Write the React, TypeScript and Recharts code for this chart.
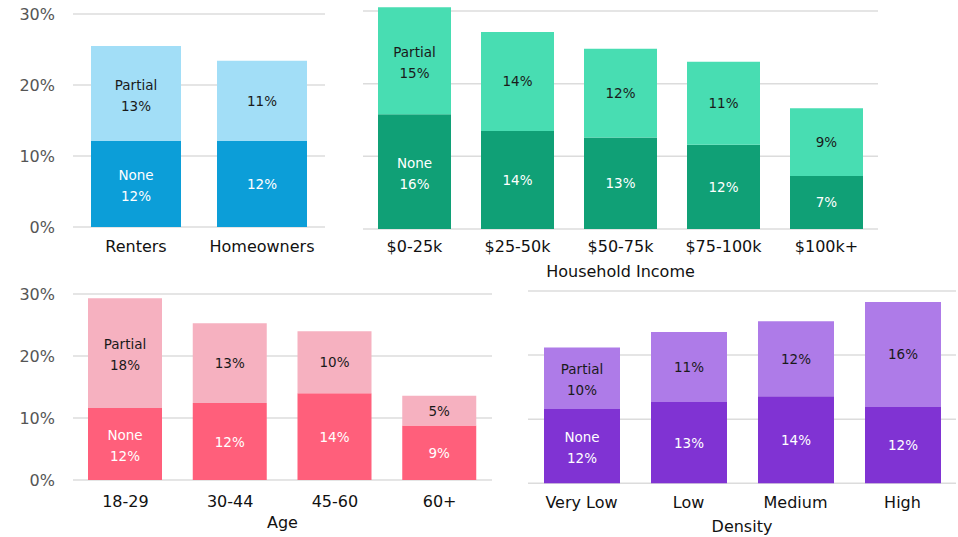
import React from "react";
import {
  BarChart,
  Bar,
  XAxis,
  YAxis,
  CartesianGrid,
  LabelList,
} from "recharts";

// values in percent
const tenureCats = ["Renters", "Homeowners"];
const tenureNone = [12.1, 12.1];
const tenurePartial = [13.4, 11.3];

const incomeCats = ["$0-25k", "$25-50k", "$50-75k", "$75-100k", "$100k+"];
const incomeNone = [15.8, 13.5, 12.6, 11.6, 7.3];
const incomePartial = [14.7, 13.6, 12.2, 11.4, 9.3];

const ageCats = ["18-29", "30-44", "45-60", "60+"];
const ageNone = [11.6, 12.4, 14.0, 8.8];
const agePartial = [17.7, 12.9, 10.0, 4.8];

const densityCats = ["Very Low", "Low", "Medium", "High"];
const densityNone = [11.6, 12.7, 13.6, 11.9];
const densityPartial = [9.6, 10.9, 11.7, 16.4];

const yTicks = [0, 10, 20, 30];

const FONT = "'DejaVu Sans', sans-serif";

type Row = { name: string; none: number; partial: number };

const toRows = (cats: string[], none: number[], partial: number[]): Row[] =>
  cats.map((name, i) => ({ name, none: none[i], partial: partial[i] }));

// label centred in a segment; first bar also gets the series name
const segLabel =
  (rows: Row[], key: "none" | "partial", title: string, color: string) =>
  (props: any) => {
    const { x, y, width, height, index } = props;
    const v = rows[index][key];
    const cx = Number(x) + Number(width) / 2;
    const cy = Number(y) + Number(height) / 2;
    const pct = `${Math.round(v)}%`;
    const common = {
      textAnchor: "middle" as const,
      fill: color,
      fontSize: 13.5,
      fontFamily: FONT,
    };
    if (index === 0) {
      return (
        <text {...common}>
          <tspan x={cx} y={cy - 4}>
            {title}
          </tspan>
          <tspan x={cx} y={cy + 17}>
            {pct}
          </tspan>
        </text>
      );
    }
    return (
      <text {...common} x={cx} y={cy + 5}>
        {pct}
      </text>
    );
  };

interface PanelProps {
  rows: Row[];
  left: number;
  top: number;
  width: number;
  marginTop: number;
  plotHeight: number;
  axisHeight: number;
  tickMargin: number;
  barSize: number;
  showY: boolean;
  title?: string;
  dark: string;
  light: string;
}

function Panel(p: PanelProps) {
  const bottom = 8;
  const height = p.marginTop + p.plotHeight + p.axisHeight + bottom;
  return (
    <div style={{ position: "absolute", left: p.left, top: p.top }}>
      <BarChart
        width={p.width}
        height={height}
        data={p.rows}
        margin={{ top: p.marginTop, right: 0, left: 0, bottom }}
      >
        <CartesianGrid
          vertical={false}
          stroke="#dcdcdc"
          strokeWidth={1.5}
          syncWithTicks
        />
        <XAxis
          dataKey="name"
          axisLine={false}
          tickLine={false}
          height={p.axisHeight}
          tickMargin={p.tickMargin}
          tick={{ fontSize: 16, fill: "#111", fontFamily: FONT }}
          interval={0}
          label={
            p.title
              ? {
                  value: p.title,
                  position: "insideBottom",
                  offset: 0,
                  fill: "#111",
                  fontSize: 16,
                  fontFamily: FONT,
                }
              : undefined
          }
        />
        <YAxis
          hide={!p.showY}
          width={p.showY ? 73 : 0}
          domain={[0, 31]}
          ticks={yTicks}
          axisLine={false}
          tickLine={false}
          tickMargin={12}
          tick={{ fontSize: 16, fill: "#555", fontFamily: FONT }}
          tickFormatter={(v: number) => `${v}%`}
        />
        <Bar
          dataKey="none"
          stackId="a"
          fill={p.dark}
          barSize={p.barSize}
          isAnimationActive={false}
        >
          <LabelList
            dataKey="none"
            content={segLabel(p.rows, "none", "None", "#ffffff")}
          />
        </Bar>
        <Bar
          dataKey="partial"
          stackId="a"
          fill={p.light}
          barSize={p.barSize}
          isAnimationActive={false}
        >
          <LabelList
            dataKey="partial"
            content={segLabel(p.rows, "partial", "Partial", "#1a1a1a")}
          />
        </Bar>
      </BarChart>
    </div>
  );
}

export default function App() {
  return (
    <div
      style={{
        position: "absolute",
        left: 0,
        top: 0,
        width: 958,
        height: 537,
        background: "#fff",
        fontFamily: FONT,
      }}
    >
      <Panel
        rows={toRows(tenureCats, tenureNone, tenurePartial)}
        left={0}
        top={0}
        width={325}
        marginTop={6.9}
        plotHeight={220.1}
        axisHeight={40}
        tickMargin={8}
        barSize={90}
        showY
        dark="#0C9ED8"
        light="#A2DEF7"
      />
      <Panel
        rows={toRows(incomeCats, incomeNone, incomePartial)}
        left={363}
        top={0}
        width={515}
        marginTop={3.7}
        plotHeight={225.3}
        axisHeight={48}
        tickMargin={6}
        barSize={73}
        showY={false}
        title="Household Income"
        dark="#10A076"
        light="#48DDB2"
      />
      <Panel
        rows={toRows(ageCats, ageNone, agePartial)}
        left={0}
        top={280}
        width={492}
        marginTop={7.8}
        plotHeight={192.2}
        axisHeight={48}
        tickMargin={10}
        barSize={74}
        showY
        title="Age"
        dark="#FF5F7B"
        light="#F6B1C0"
      />
      <Panel
        rows={toRows(densityCats, densityNone, densityPartial)}
        left={528}
        top={280}
        width={428}
        marginTop={4.6}
        plotHeight={198.7}
        axisHeight={49}
        tickMargin={7}
        barSize={76}
        showY={false}
        title="Density"
        dark="#8033D3"
        light="#AE7BE8"
      />
    </div>
  );
}
